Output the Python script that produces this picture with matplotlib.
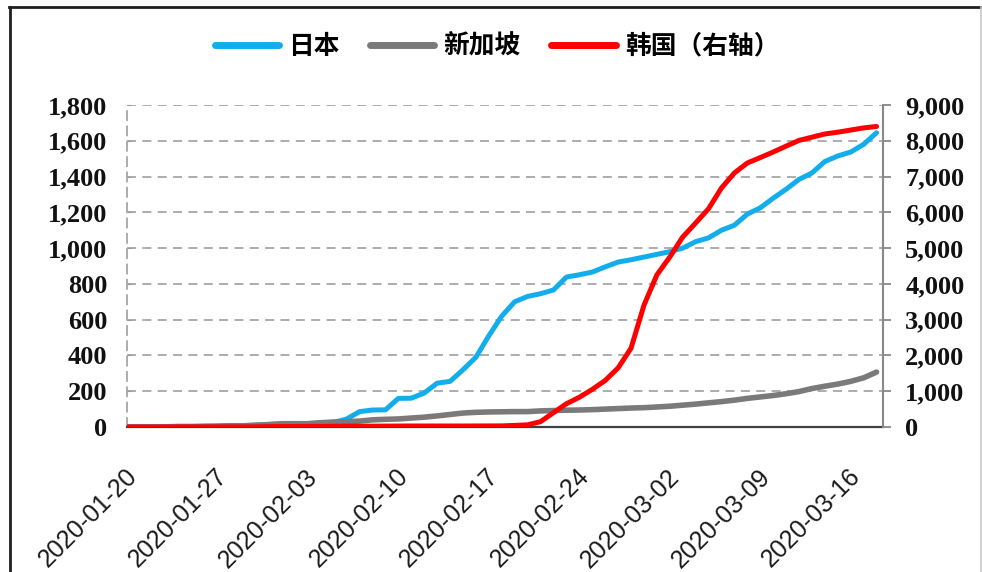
import matplotlib
matplotlib.use('Agg')
import matplotlib.pyplot as plt
import matplotlib.transforms as mtransforms
import pandas as pd
from matplotlib.lines import Line2D
from matplotlib.ticker import FuncFormatter, MultipleLocator
from matplotlib.font_manager import FontProperties

# ---------------- data ----------------
start_date = '2020-01-20'
end_date = '2020-03-18'
dates = pd.date_range(start_date, end_date, freq='D')
tick_dates = pd.date_range('2020-01-20', '2020-03-16', freq='7D')

japan = [1, 1, 1, 1, 2, 2, 4, 4, 7, 7, 11, 15, 20, 20, 20, 22, 25, 45, 86, 95,
         96, 160, 161, 190, 245, 255, 320, 390, 510, 620, 700, 730, 745, 766,
         838, 851, 866, 895, 922, 935, 950, 965, 980, 1000, 1036, 1057, 1100,
         1128, 1190, 1225, 1279, 1329, 1384, 1420, 1484, 1515, 1537, 1580, 1645]
singapore = [0, 0, 0, 1, 3, 3, 4, 5, 7, 7, 10, 13, 16, 18, 18, 24, 28, 30, 33,
             40, 43, 45, 50, 55, 62, 70, 78, 82, 84, 85, 86, 86, 90, 92, 94, 95,
             97, 100, 103, 106, 108, 112, 116, 122, 128, 135, 142, 150, 160, 168,
             176, 186, 198, 215, 228, 240, 255, 275, 307]
korea = [1, 1, 1, 1, 2, 2, 3, 4, 4, 4, 4, 11, 12, 15, 15, 16, 19, 23, 24, 24,
         25, 27, 28, 28, 28, 28, 28, 29, 30, 31, 45, 60, 150, 400, 650, 830,
         1050, 1300, 1650, 2200, 3400, 4250, 4750, 5310, 5700, 6100, 6680, 7100,
         7378, 7530, 7686, 7850, 8010, 8100, 8190, 8240, 8300, 8360, 8400]

labels = ['日本', '新加坡', '韩国（右轴）']
colors = ['#12AEEB', '#7A7A7A', '#FF0000']

# ---------------- figure ----------------
W, H = 982, 572
fig = plt.figure(figsize=(W / 100, H / 100), dpi=100)
fig.patch.set_facecolor('white')

l, r, t, b = 127, 883, 105, 427
ax = fig.add_axes([l / W, 1 - b / H, (r - l) / W, (b - t) / H])
ax2 = ax.twinx()

ax.plot(dates, japan, color=colors[0], lw=3.6, zorder=3, solid_capstyle='round')
ax.plot(dates, singapore, color=colors[1], lw=4.0, zorder=4, solid_capstyle='round')
ax2.plot(dates, korea, color=colors[2], lw=3.6, zorder=5, solid_capstyle='round')

ax.set_ylim(0, 1800)
ax2.set_ylim(0, 9000)
ax.yaxis.set_major_locator(MultipleLocator(200))
ax2.yaxis.set_major_locator(MultipleLocator(1000))
ax.set_xlim(dates[0], dates[-1] + pd.Timedelta(hours=12))

fmt = FuncFormatter(lambda v, p: f'{int(v):,}')
ax.yaxis.set_major_formatter(fmt)
ax2.yaxis.set_major_formatter(fmt)

num_fp = FontProperties(family='Liberation Serif', weight='bold', size=19)
ax.tick_params(axis='y', which='major', direction='in', length=3,
               color='#999999', pad=14)
ax2.tick_params(axis='y', which='major', direction='out', length=6,
                width=1.3, color='#888888', pad=10)
for lab in ax.get_yticklabels() + ax2.get_yticklabels():
    lab.set_fontproperties(num_fp)
    lab.set_color('#111111')

ax.set_xticks(tick_dates)
ax.set_xticklabels([d.strftime('%Y-%m-%d') for d in tick_dates],
                   rotation=45, ha='right', va='center', rotation_mode='anchor',
                   fontsize=18, family='Liberation Sans', color='#1a1a1a')
ax.tick_params(axis='x', length=0, pad=33)
shift = mtransforms.ScaledTranslation(6 / 100, 0, fig.dpi_scale_trans)
for lab in ax.get_xticklabels():
    lab.set_transform(lab.get_transform() + shift)

# grid
dash = (0, (5, 3.5))
ax.yaxis.grid(True, linestyle=dash, color='#A6A6A6', linewidth=1.3, zorder=0)
ax.set_axisbelow(True)

for s in ['top', 'right']:
    ax.spines[s].set_visible(False)
    ax2.spines[s].set_visible(s == 'right')
ax2.spines['left'].set_visible(False)
ax2.spines['bottom'].set_visible(False)
ax2.spines['right'].set_color('#888888')
ax2.spines['right'].set_linewidth(1.5)
ax.spines['left'].set_linestyle(dash)
ax.spines['left'].set_color('#A6A6A6')
ax.spines['left'].set_linewidth(1.3)
ax.spines['bottom'].set_color('#404040')
ax.spines['bottom'].set_linewidth(1.6)

# legend
handles = [Line2D([0], [0], color=c, lw=5, solid_capstyle='round') for c in colors]
fig.legend(handles, labels, loc='center', bbox_to_anchor=(0.506, 1 - 46 / H),
           ncol=3, frameon=False, handlelength=2.5, handletextpad=0.35,
           columnspacing=1.2,
           prop=FontProperties(family=['Noto Sans CJK SC', 'DejaVu Sans'],
                               weight='bold', size=18.5))

# outer frame
fig.add_artist(Line2D([9 / W, 981 / W], [1 - 7 / H, 1 - 7 / H], transform=fig.transFigure,
                      color='#202020', lw=2))
fig.add_artist(Line2D([9.5 / W, 9.5 / W], [0, 1 - 7 / H], transform=fig.transFigure,
                      color='#202020', lw=2))
fig.add_artist(Line2D([980.5 / W, 980.5 / W], [0, 1 - 7 / H], transform=fig.transFigure,
                      color='#C8C8C8', lw=1.2))

fig.savefig('out.png', dpi=100, facecolor='white')
